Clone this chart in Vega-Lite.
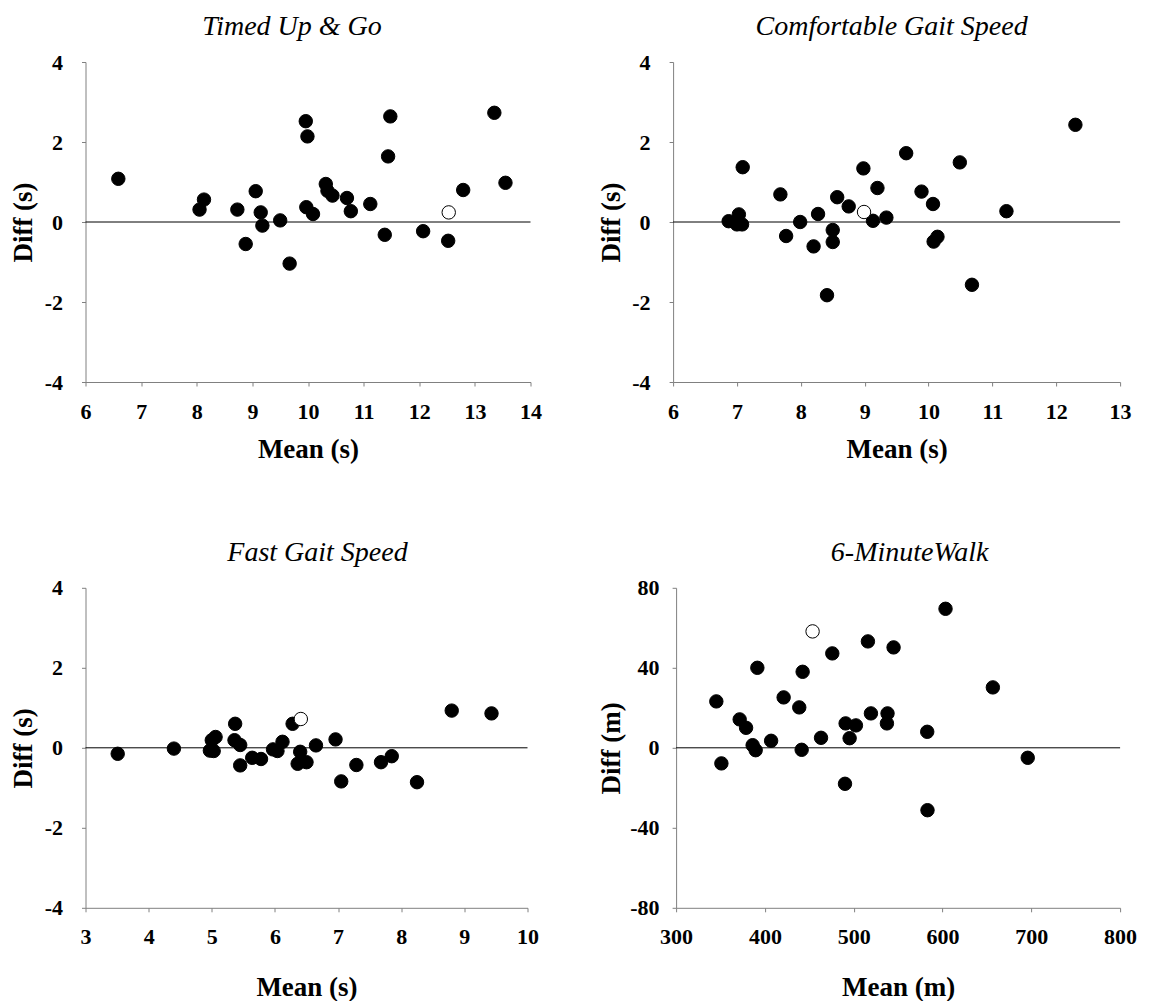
{
  "$schema": "https://vega.github.io/schema/vega-lite/v6.json",
  "padding": {"left": 9.5, "top": 13, "right": 5, "bottom": 0},
  "background": "white",
  "datasets": {
    "tug": [
      {"mean": 6.59, "diff": 1.08, "type": "filled"},
      {"mean": 8.13, "diff": 0.56, "type": "filled"},
      {"mean": 8.05, "diff": 0.31, "type": "filled"},
      {"mean": 8.73, "diff": 0.31, "type": "filled"},
      {"mean": 9.06, "diff": 0.77, "type": "filled"},
      {"mean": 9.15, "diff": 0.24, "type": "filled"},
      {"mean": 9.18, "diff": -0.09, "type": "filled"},
      {"mean": 8.88, "diff": -0.55, "type": "filled"},
      {"mean": 9.50, "diff": 0.04, "type": "filled"},
      {"mean": 9.96, "diff": 2.52, "type": "filled"},
      {"mean": 9.99, "diff": 2.14, "type": "filled"},
      {"mean": 9.97, "diff": 0.37, "type": "filled"},
      {"mean": 10.09, "diff": 0.20, "type": "filled"},
      {"mean": 10.32, "diff": 0.95, "type": "filled"},
      {"mean": 10.35, "diff": 0.78, "type": "filled"},
      {"mean": 10.44, "diff": 0.66, "type": "filled"},
      {"mean": 10.70, "diff": 0.60, "type": "filled"},
      {"mean": 10.77, "diff": 0.27, "type": "filled"},
      {"mean": 11.12, "diff": 0.45, "type": "filled"},
      {"mean": 11.48, "diff": 2.64, "type": "filled"},
      {"mean": 11.44, "diff": 1.64, "type": "filled"},
      {"mean": 11.38, "diff": -0.32, "type": "filled"},
      {"mean": 12.07, "diff": -0.23, "type": "filled"},
      {"mean": 12.52, "diff": -0.47, "type": "filled"},
      {"mean": 12.79, "diff": 0.80, "type": "filled"},
      {"mean": 13.35, "diff": 2.73, "type": "filled"},
      {"mean": 13.55, "diff": 0.98, "type": "filled"},
      {"mean": 9.67, "diff": -1.04, "type": "filled"},
      {"mean": 12.53, "diff": 0.24, "type": "open"}
    ],
    "cgs": [
      {"mean": 6.87, "diff": 0.02, "type": "filled"},
      {"mean": 7.03, "diff": 0.19, "type": "filled"},
      {"mean": 7.00, "diff": -0.06, "type": "filled"},
      {"mean": 7.08, "diff": -0.06, "type": "filled"},
      {"mean": 7.09, "diff": 1.37, "type": "filled"},
      {"mean": 7.68, "diff": 0.69, "type": "filled"},
      {"mean": 7.77, "diff": -0.35, "type": "filled"},
      {"mean": 7.99, "diff": 0.00, "type": "filled"},
      {"mean": 8.20, "diff": -0.61, "type": "filled"},
      {"mean": 8.27, "diff": 0.20, "type": "filled"},
      {"mean": 8.50, "diff": -0.20, "type": "filled"},
      {"mean": 8.50, "diff": -0.50, "type": "filled"},
      {"mean": 8.57, "diff": 0.62, "type": "filled"},
      {"mean": 8.75, "diff": 0.39, "type": "filled"},
      {"mean": 8.98, "diff": 1.34, "type": "filled"},
      {"mean": 9.13, "diff": 0.03, "type": "filled"},
      {"mean": 9.20, "diff": 0.85, "type": "filled"},
      {"mean": 9.34, "diff": 0.11, "type": "filled"},
      {"mean": 9.65, "diff": 1.72, "type": "filled"},
      {"mean": 9.89, "diff": 0.76, "type": "filled"},
      {"mean": 10.07, "diff": 0.45, "type": "filled"},
      {"mean": 10.08, "diff": -0.49, "type": "filled"},
      {"mean": 10.14, "diff": -0.37, "type": "filled"},
      {"mean": 10.49, "diff": 1.49, "type": "filled"},
      {"mean": 11.22, "diff": 0.27, "type": "filled"},
      {"mean": 12.30, "diff": 2.43, "type": "filled"},
      {"mean": 10.68, "diff": -1.57, "type": "filled"},
      {"mean": 8.41, "diff": -1.83, "type": "filled"},
      {"mean": 8.99, "diff": 0.25, "type": "open"}
    ],
    "fgs": [
      {"mean": 3.51, "diff": -0.15, "type": "filled"},
      {"mean": 4.40, "diff": -0.02, "type": "filled"},
      {"mean": 4.97, "diff": -0.07, "type": "filled"},
      {"mean": 5.03, "diff": -0.08, "type": "filled"},
      {"mean": 5.06, "diff": 0.27, "type": "filled"},
      {"mean": 5.00, "diff": 0.19, "type": "filled"},
      {"mean": 5.37, "diff": 0.60, "type": "filled"},
      {"mean": 5.36, "diff": 0.19, "type": "filled"},
      {"mean": 5.45, "diff": 0.07, "type": "filled"},
      {"mean": 5.45, "diff": -0.44, "type": "filled"},
      {"mean": 5.64, "diff": -0.25, "type": "filled"},
      {"mean": 5.78, "diff": -0.28, "type": "filled"},
      {"mean": 5.97, "diff": -0.04, "type": "filled"},
      {"mean": 6.04, "diff": -0.08, "type": "filled"},
      {"mean": 6.12, "diff": 0.15, "type": "filled"},
      {"mean": 6.28, "diff": 0.60, "type": "filled"},
      {"mean": 6.40, "diff": -0.10, "type": "filled"},
      {"mean": 6.36, "diff": -0.40, "type": "filled"},
      {"mean": 6.50, "diff": -0.36, "type": "filled"},
      {"mean": 6.65, "diff": 0.06, "type": "filled"},
      {"mean": 6.96, "diff": 0.21, "type": "filled"},
      {"mean": 7.05, "diff": -0.84, "type": "filled"},
      {"mean": 7.29, "diff": -0.43, "type": "filled"},
      {"mean": 7.68, "diff": -0.36, "type": "filled"},
      {"mean": 7.85, "diff": -0.21, "type": "filled"},
      {"mean": 8.25, "diff": -0.86, "type": "filled"},
      {"mean": 8.80, "diff": 0.93, "type": "filled"},
      {"mean": 9.43, "diff": 0.86, "type": "filled"},
      {"mean": 6.41, "diff": 0.72, "type": "open"}
    ],
    "smw": [
      {"mean": 345.3, "diff": 23.2, "type": "filled"},
      {"mean": 351.0, "diff": -7.8, "type": "filled"},
      {"mean": 371.6, "diff": 14.2, "type": "filled"},
      {"mean": 378.8, "diff": 10.0, "type": "filled"},
      {"mean": 386.2, "diff": 1.3, "type": "filled"},
      {"mean": 389.6, "diff": -1.2, "type": "filled"},
      {"mean": 391.5, "diff": 40.0, "type": "filled"},
      {"mean": 407.0, "diff": 3.5, "type": "filled"},
      {"mean": 421.1, "diff": 25.2, "type": "filled"},
      {"mean": 438.7, "diff": 20.2, "type": "filled"},
      {"mean": 442.5, "diff": 38.0, "type": "filled"},
      {"mean": 441.4, "diff": -1.0, "type": "filled"},
      {"mean": 463.2, "diff": 5.0, "type": "filled"},
      {"mean": 475.9, "diff": 47.2, "type": "filled"},
      {"mean": 490.2, "diff": -18.0, "type": "filled"},
      {"mean": 490.9, "diff": 12.2, "type": "filled"},
      {"mean": 495.4, "diff": 4.8, "type": "filled"},
      {"mean": 502.5, "diff": 11.2, "type": "filled"},
      {"mean": 516.0, "diff": 53.2, "type": "filled"},
      {"mean": 519.4, "diff": 17.2, "type": "filled"},
      {"mean": 537.4, "diff": 12.2, "type": "filled"},
      {"mean": 538.1, "diff": 17.2, "type": "filled"},
      {"mean": 544.9, "diff": 50.2, "type": "filled"},
      {"mean": 582.8, "diff": 8.0, "type": "filled"},
      {"mean": 603.4, "diff": 69.5, "type": "filled"},
      {"mean": 656.7, "diff": 30.2, "type": "filled"},
      {"mean": 696.0, "diff": -5.0, "type": "filled"},
      {"mean": 583.1, "diff": -31.2, "type": "filled"},
      {"mean": 453.7, "diff": 58.2, "type": "open"}
    ],
    "zero": [{"z": 0}]
  },
  "config": {
    "view": {"stroke": null},
    "font": "Liberation Serif",
    "axis": {
      "grid": false,
      "domainColor": "#808080",
      "tickColor": "#808080",
      "tickSize": 4,
      "labelFont": "Liberation Serif",
      "labelFontSize": 22,
      "labelFontWeight": "bold",
      "labelColor": "black",
      "labelOverlap": false,
      "labelFlush": false,
      "labelExpr": "'' + datum.value",
      "titleFont": "Liberation Serif",
      "titleFontSize": 27,
      "titleFontWeight": "bold",
      "titleColor": "black"
    },
    "axisX": {"labelFont": "Liberation Serif", "labelFontSize": 22, "labelFontWeight": "bold", "labelPadding": 15, "minExtent": 40, "maxExtent": 40, "titlePadding": 14},
    "axisY": {"labelFont": "Liberation Serif", "labelFontSize": 22, "labelFontWeight": "bold", "labelPadding": 19, "minExtent": 45, "maxExtent": 45, "titlePadding": 3},
    "title": {
      "font": "Liberation Serif",
      "fontSize": 28,
      "fontStyle": "italic",
      "fontWeight": "normal",
      "color": "black",
      "offset": 10,
      "baseline": "alphabetic"
    }
  },
  "columns": 2,
  "align": "none",
  "spacing": {"row": 76.8, "column": 55.6},
  "concat": [
    {
      "width": 445,
      "height": 320,
      "title": {"text": "Timed Up & Go", "dx": -16},
      "layer": [
        {
          "data": {"name": "zero"},
          "mark": {"type": "rule", "color": "black", "strokeWidth": 1},
          "encoding": {"y": {"field": "z", "type": "quantitative", "scale": {"domain": [-4, 4], "nice": false, "zero": false}}}
        },
        {
          "data": {"name": "tug"},
          "mark": {"type": "point", "filled": true, "shape": "circle", "size": 180, "stroke": "black", "strokeWidth": 1, "opacity": 1},
          "encoding": {
            "x": {"field": "mean", "type": "quantitative", "title": "Mean (s)", "scale": {"domain": [6, 14], "nice": false, "zero": false}, "axis": {"values": [6, 7, 8, 9, 10, 11, 12, 13, 14]}},
            "y": {"field": "diff", "type": "quantitative", "title": "Diff (s)", "scale": {"domain": [-4, 4], "nice": false, "zero": false}, "axis": {"values": [-4, -2, 0, 2, 4]}},
            "fill": {"field": "type", "type": "nominal", "scale": {"domain": ["filled", "open"], "range": ["black", "white"]}, "legend": null}
          }
        }
      ]
    },
    {
      "width": 447,
      "height": 320,
      "title": {"text": "Comfortable Gait Speed", "dx": -5},
      "layer": [
        {
          "data": {"name": "zero"},
          "mark": {"type": "rule", "color": "black", "strokeWidth": 1},
          "encoding": {"y": {"field": "z", "type": "quantitative", "scale": {"domain": [-4, 4], "nice": false, "zero": false}}}
        },
        {
          "data": {"name": "cgs"},
          "mark": {"type": "point", "filled": true, "shape": "circle", "size": 180, "stroke": "black", "strokeWidth": 1, "opacity": 1},
          "encoding": {
            "x": {"field": "mean", "type": "quantitative", "title": "Mean (s)", "scale": {"domain": [6, 13], "nice": false, "zero": false}, "axis": {"values": [6, 7, 8, 9, 10, 11, 12, 13]}},
            "y": {"field": "diff", "type": "quantitative", "title": "Diff (s)", "scale": {"domain": [-4, 4], "nice": false, "zero": false}, "axis": {"values": [-4, -2, 0, 2, 4]}},
            "fill": {"field": "type", "type": "nominal", "scale": {"domain": ["filled", "open"], "range": ["black", "white"]}, "legend": null}
          }
        }
      ]
    },
    {
      "width": 442,
      "height": 320,
      "title": {"text": "Fast Gait Speed", "dx": 11},
      "layer": [
        {
          "data": {"name": "zero"},
          "mark": {"type": "rule", "color": "black", "strokeWidth": 1},
          "encoding": {"y": {"field": "z", "type": "quantitative", "scale": {"domain": [-4, 4], "nice": false, "zero": false}}}
        },
        {
          "data": {"name": "fgs"},
          "mark": {"type": "point", "filled": true, "shape": "circle", "size": 180, "stroke": "black", "strokeWidth": 1, "opacity": 1},
          "encoding": {
            "x": {"field": "mean", "type": "quantitative", "title": "Mean (s)", "scale": {"domain": [3, 10], "nice": false, "zero": false}, "axis": {"values": [3, 4, 5, 6, 7, 8, 9, 10], "titlePadding": 27}},
            "y": {"field": "diff", "type": "quantitative", "title": "Diff (s)", "scale": {"domain": [-4, 4], "nice": false, "zero": false}, "axis": {"values": [-4, -2, 0, 2, 4]}},
            "fill": {"field": "type", "type": "nominal", "scale": {"domain": ["filled", "open"], "range": ["black", "white"]}, "legend": null}
          }
        }
      ]
    },
    {
      "width": 444,
      "height": 320,
      "title": {"text": "6-MinuteWalk", "dx": 11.5},
      "layer": [
        {
          "data": {"name": "zero"},
          "mark": {"type": "rule", "color": "black", "strokeWidth": 1},
          "encoding": {"y": {"field": "z", "type": "quantitative", "scale": {"domain": [-80, 80], "nice": false, "zero": false}}}
        },
        {
          "data": {"name": "smw"},
          "mark": {"type": "point", "filled": true, "shape": "circle", "size": 180, "stroke": "black", "strokeWidth": 1, "opacity": 1},
          "encoding": {
            "x": {"field": "mean", "type": "quantitative", "title": "Mean (m)", "scale": {"domain": [300, 800], "nice": false, "zero": false}, "axis": {"values": [300, 400, 500, 600, 700, 800], "titlePadding": 27}},
            "y": {"field": "diff", "type": "quantitative", "title": "Diff (m)", "scale": {"domain": [-80, 80], "nice": false, "zero": false}, "axis": {"values": [-80, -40, 0, 40, 80], "labelPadding": 13, "titlePadding": 6}},
            "fill": {"field": "type", "type": "nominal", "scale": {"domain": ["filled", "open"], "range": ["black", "white"]}, "legend": null}
          }
        }
      ]
    }
  ]
}
